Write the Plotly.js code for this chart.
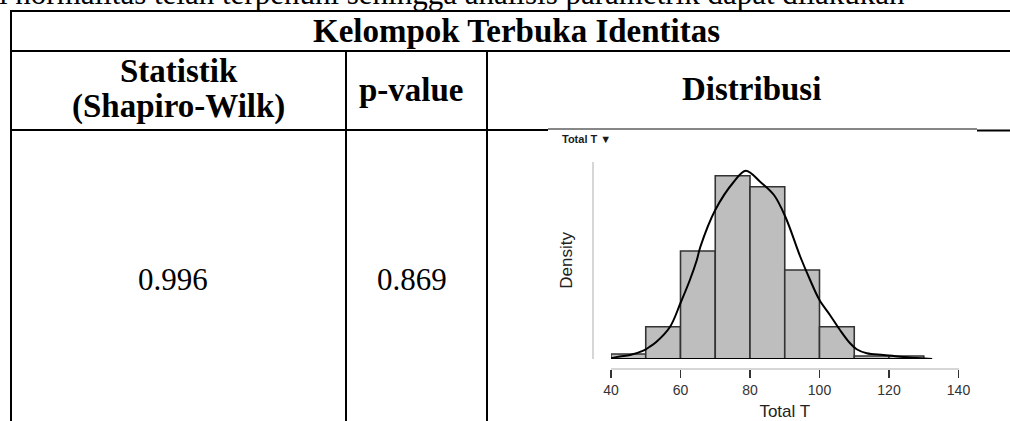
<!DOCTYPE html>
<html>
<head>
<meta charset="utf-8">
<script src="https://cdn.plot.ly/plotly-3.0.1.min.js"></script>
<style>
  html, body { margin: 0; padding: 0; background: #ffffff; }
  #chart { width: 1010px; height: 421px; }
</style>
</head>
<body>
<div id="chart"></div>
<script>
// ---------- data ----------
const tableTitle = 'Kelompok Terbuka Identitas';
const headerStat1 = 'Statistik';
const headerStat2 = '(Shapiro-Wilk)';
const headerP = 'p-value';
const headerDist = 'Distribusi';
const statValue = '0.996';
const pValue = '0.869';
const leadText = 'i normalitas telah terpenuhi sehingga analisis parametrik dapat dilakukan';

const binLeft = [40, 50, 60, 70, 80, 90, 100, 110, 120];
const binWidth = 10;
const binDensity = [0.0008, 0.00518, 0.01732, 0.0294, 0.02763, 0.01427, 0.00518, 0.00048, 0.00048];

const densX = [40, 42.5, 45.5, 49.3, 51, 53.1, 57, 60, 62.7, 64.7, 65.7, 70, 75.3, 78.8, 83, 86.9, 90.2, 94.5, 97.3, 100, 103, 105.9, 108.8, 110.7, 113.6, 118.4, 123.2, 128, 132.4];
const densY = [0.00011, 0.0004, 0.00064, 0.00133, 0.00192, 0.00277, 0.00518, 0.00898, 0.01267, 0.01588, 0.01796, 0.0239, 0.02839, 0.0302, 0.02839, 0.0263, 0.02277, 0.01636, 0.01267, 0.00946, 0.00706, 0.00465, 0.00252, 0.00156, 0.00091, 0.00064, 0.00037, 0.00016, 0];

const xTicks = [40, 60, 80, 100, 120, 140];
const xLabel = 'Total T';
const yLabel = 'Density';
const plotTag = 'Total T \u25BC';

// ---------- layout helpers (pixel -> paper) ----------
const W = 1010, H = 421;
const px = v => v / W;
const py = v => 1 - v / H;

const serif = 'Liberation Serif, Times New Roman, serif';
const sans = 'Liberation Sans, Arial, Helvetica, sans-serif';

const traces = [
  {
    type: 'bar',
    x: binLeft,
    y: binDensity,
    width: binDensity.map(() => binWidth),
    offset: 0,
    marker: { color: '#bebebe', line: { color: '#333333', width: 1.6 } },
    hoverinfo: 'skip',
    showlegend: false
  },
  {
    type: 'scatter',
    mode: 'lines',
    x: [densX[0], densX[densX.length - 1]],
    y: [0, 0],
    line: { color: '#000000', width: 2.2 },
    hoverinfo: 'skip',
    showlegend: false
  },
  {
    type: 'scatter',
    mode: 'lines',
    x: densX,
    y: densY,
    line: { color: '#000000', width: 2, shape: 'spline', smoothing: 1 },
    hoverinfo: 'skip',
    showlegend: false
  }
];

function hline(y, x0, x1, w, c) {
  return { type: 'line', xref: 'paper', yref: 'paper', x0: px(x0), x1: px(x1), y0: py(y), y1: py(y),
           line: { color: c || '#000000', width: w } };
}
function vline(x, y0, y1, w) {
  return { type: 'line', xref: 'paper', yref: 'paper', x0: px(x), x1: px(x), y0: py(y0), y1: py(y1),
           line: { color: '#000000', width: w } };
}

const shapes = [
  hline(11, 11, 1012, 2),
  hline(51, 11, 1012, 2),
  hline(130, 11, 548, 2),
  hline(129, 548, 977, 1.2, '#111111'),
  hline(130.5, 977, 1012, 2),
  vline(11, 10, 422, 2),
  vline(346, 51, 422, 2),
  vline(487, 51, 422, 2)
];

function ann(text, x, y, size, opts) {
  return Object.assign({
    text: text, xref: 'paper', yref: 'paper', x: px(x), y: py(y),
    xanchor: 'center', yanchor: 'middle', showarrow: false,
    font: { family: serif, size: size, color: '#000000' }
  }, opts || {});
}

const annotations = [
  ann(leadText, -3, -6, 31, { xanchor: 'left' }),
  ann('<b>' + tableTitle + '</b>', 516, 30.5, 33),
  ann('<b>' + headerStat1 + '</b>', 178.5, 70.5, 33),
  ann('<b>' + headerStat2 + '</b>', 178.5, 107, 33),
  ann('<b>' + headerP + '</b>', 411, 90.5, 33),
  ann('<b>' + headerDist + '</b>', 751.5, 89, 33),
  ann(statValue, 172.8, 279.5, 31),
  ann(pValue, 411.7, 279.5, 31),
  ann('<b>' + plotTag + '</b>', 560, 139, 11, { xanchor: 'left', font: { family: sans, size: 11, color: '#1a1a1a' } })
];

const layout = {
  width: W, height: H,
  margin: { l: 0, r: 0, t: 0, b: 0, pad: 0 },
  paper_bgcolor: '#ffffff',
  plot_bgcolor: 'rgba(0,0,0,0)',
  showlegend: false,
  bargap: 0,
  xaxis: {
    domain: [px(611), px(958.5)],
    range: [40, 140],
    anchor: 'free',
    position: py(368.7),
    showline: true, linecolor: '#d6d6d6', linewidth: 2.5,
    showgrid: false, zeroline: false,
    ticks: 'outside', ticklen: 8, tickwidth: 1.6, tickcolor: '#333333',
    tickvals: xTicks,
    tickfont: { family: sans, size: 14, color: '#333333' },
    title: { text: xLabel, font: { family: sans, size: 17, color: '#222222' }, standoff: 12 },
    fixedrange: true
  },
  yaxis: {
    domain: [py(359), py(161.7)],
    range: [0, 0.031644],
    anchor: 'free',
    position: px(593),
    showline: true, linecolor: '#d6d6d6', linewidth: 2,
    showgrid: false, zeroline: false,
    ticks: '', showticklabels: false,
    title: { text: yLabel, font: { family: sans, size: 17, color: '#222222' }, standoff: 14 },
    fixedrange: true
  },
  shapes: shapes,
  annotations: annotations
};

Plotly.newPlot('chart', traces, layout, { displayModeBar: false, staticPlot: true });
</script>
</body>
</html>
